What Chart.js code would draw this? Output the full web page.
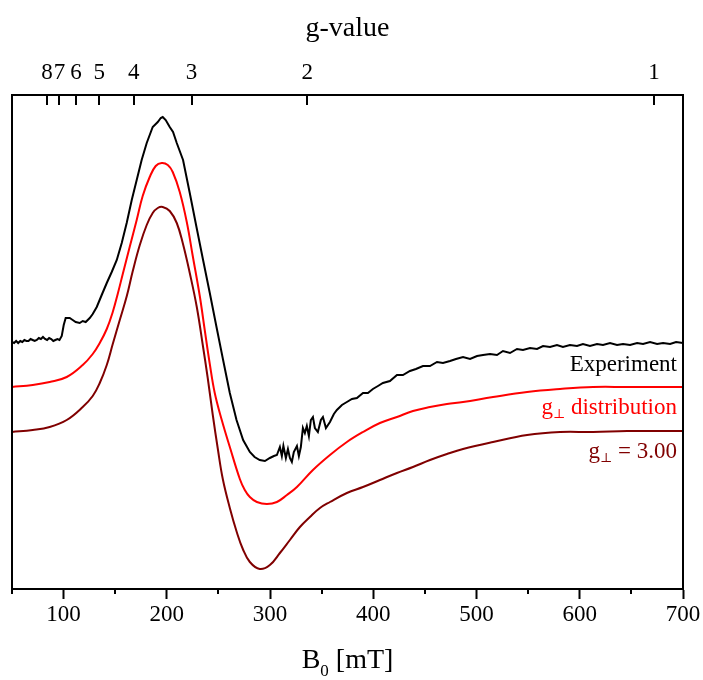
<!DOCTYPE html>
<html>
<head>
<meta charset="utf-8">
<script src="https://cdn.jsdelivr.net/npm/chart.js@4.4.1/dist/chart.umd.min.js"></script>
<style>
  html, body { margin: 0; padding: 0; background: #fff; }
</style>
</head>
<body>
<canvas id="epr" width="703" height="680"></canvas>
<script>
// field axis, mT
const fieldMin = 50;
const fieldMax = 700;
const fieldTicks = [50, 100, 150, 200, 250, 300, 350, 400, 450, 500, 550, 600, 650, 700];

// g-value axis: B = hv / (g * muB), with hv/muB ~ 672 mT
const hvOverMuB = 672;
const gTicks = [8, 7, 6, 5, 4, 3, 2, 1];

// measured spectrum (arb. units, offset)
const expField = [
  50, 52, 54, 56, 58, 60, 62, 64, 66, 68,
  70, 72, 74, 76, 78, 80, 82, 84, 86, 88,
  90, 92, 94, 96, 98.2, 100.1, 102, 105.9, 108.8, 111.7,
  115.6, 118.5, 121.4, 125.3, 128.2, 132.1, 136.9, 141.8, 146.6, 151.5,
  156.3, 161.1, 166, 170.8, 175.6, 180.5, 186.3, 191.2, 194.1, 196,
  198.9, 202.8, 206, 209.6, 215.7, 222.2, 228.7, 235.1, 241.6, 248.1,
  254.5, 261, 267.5, 273.9, 280.4, 285, 290, 295, 299.8, 303.7,
  306.6, 309.5, 311.4, 312.9, 315.3, 317.3, 319.2, 321.1, 323, 326,
  327.9, 329.8, 331.8, 333.7, 335.6, 337.6, 339.5, 341.5, 343.4, 346.3,
  349.2, 351.2, 354.1, 358, 361.8, 364.7, 369.6, 374.4, 379.3, 384.1,
  390, 394.8, 399.6, 404.5, 409.3, 416.1, 422.9, 428.7, 435.5, 441.3,
  448.1, 454.9, 461.7, 467.5, 474.3, 480.1, 486.9, 493.7, 500.5, 506.3,
  513.1, 519.8, 525.6, 532.4, 539.2, 545, 551.8, 558.6, 564.4, 571.2,
  577.9, 583.7, 590.5, 597.3, 603.1, 609.9, 616.7, 622.5, 629.3, 636.1,
  641.9, 648.7, 655.5, 661.3, 668.1, 674.9, 680.7, 687.5, 693.3, 700
];
const expSignal = [
  247, 246, 248, 246, 248, 247, 249, 248, 248, 250,
  249, 248, 249, 251, 250, 252, 250, 249, 251, 250,
  248, 249, 250, 249, 253, 264, 271, 271, 269, 267,
  266, 268, 267, 271, 275, 282, 294, 306, 317, 329,
  346, 366, 389, 409, 429, 446, 462, 467, 471, 472,
  469, 462, 457, 446, 429, 396, 362, 329, 296, 262,
  229, 196, 169, 149, 137, 132, 129, 128, 131, 133,
  134, 142, 133, 143, 131, 140, 131, 127, 137, 143,
  133, 142, 161, 156, 163, 153, 169, 172, 161, 157,
  169, 172, 161, 167, 175, 179, 184, 187, 190, 191,
  196, 196, 200, 203, 206, 208, 214, 214, 218, 220,
  223, 223, 227, 226, 228, 230, 232, 230, 233, 234,
  235, 234, 238, 236, 240, 239, 241, 240, 243, 242,
  244, 242, 244, 243, 245, 243, 245, 244, 246, 244,
  245, 244, 246, 245, 247, 245, 246, 245, 247, 246
];

// simulation with a distribution of g_perp
const distField = [
  50, 70.1, 86.5, 103, 118.5, 128.2, 135, 141.8, 147.6, 152.4,
  157.3, 164, 170.8, 176.6, 183.4, 189.2, 195, 200.9, 205.7, 212.5,
  219.3, 225.1, 231.9, 236.7, 241.6, 246.4, 253.2, 261, 270.7, 275.5,
  280.4, 287.2, 296.9, 306.6, 316.3, 326, 341.5, 358, 374.4, 390,
  406.4, 422.9, 438.4, 454.9, 471.3, 486.9, 516, 549, 580.9, 612.9,
  645.9, 700
];
const distSignal = [
  202, 204, 207, 212, 224, 235, 246, 260, 277, 295,
  315, 342, 369, 393, 412, 423, 426, 424, 417, 397,
  367, 333, 293, 259, 225, 196, 169, 142, 110, 99,
  92, 87, 85, 87, 94, 102, 119, 134, 147, 157,
  166, 172, 178, 182, 185, 187, 192, 197, 200, 202,
  202, 202
];

// simulation with g_perp = 3.00
const g300Field = [
  50, 70.1, 86.5, 103, 118.5, 128.2, 135, 141.8, 147.6, 154.4,
  161.2, 167, 173.8, 180.5, 186.3, 191.2, 196, 202.8, 209.6, 215.4,
  222.2, 229, 234.8, 239.6, 244.5, 249.4, 254.2, 261, 267.7, 273.6,
  280.4, 290, 299.8, 309.5, 319.2, 328.9, 338.6, 348.3, 358, 374.4,
  390, 406.4, 422.9, 438.4, 454.9, 471.3, 486.9, 516, 549, 580.9,
  612.9, 645.9, 700
];
const g300Signal = [
  157, 159, 162, 169, 182, 193, 206, 224, 245, 269,
  293, 318, 344, 364, 376, 381, 382, 378, 366, 346,
  316, 282, 244, 211, 174, 140, 110, 81, 57, 40,
  27, 20, 24, 36, 49, 62, 72, 81, 87, 96,
  102, 109, 116, 122, 129, 135, 140, 147, 154, 157,
  157, 158, 158
];

const serif = '"Liberation Serif", "DejaVu Serif", serif';
const colors = ['#000000', '#ff0000', '#800000'];

function toPoints(xs, ys) {
  return xs.map((x, i) => ({ x: x, y: ys[i] }));
}

function richWidth(ctx, pieces, size, subSize) {
  let width = 0;
  pieces.forEach(p => {
    ctx.font = (p.sub ? subSize : size) + 'px ' + serif;
    width += ctx.measureText(p.t).width;
  });
  return width;
}

// draws text pieces right-aligned; pieces marked sub are smaller and lower
function drawRich(ctx, pieces, right, baseline, size, subSize) {
  let x = right - richWidth(ctx, pieces, size, subSize);
  pieces.forEach(p => {
    ctx.font = (p.sub ? subSize : size) + 'px ' + serif;
    ctx.fillText(p.t, x, baseline + (p.sub ? p.dy : 0));
    x += ctx.measureText(p.t).width;
  });
}

const decorations = {
  id: 'decorations',
  afterDraw(chart) {
    const { ctx, chartArea: a, scales } = chart;
    ctx.save();
    ctx.strokeStyle = '#000';
    ctx.lineWidth = 2;
    ctx.strokeRect(a.left, a.top, a.right - a.left, a.bottom - a.top);

    ctx.beginPath();
    // g-value ticks point into the plot
    scales.gAxis.ticks.forEach(t => {
      const x = Math.round(scales.gAxis.getPixelForValue(t.value));
      ctx.moveTo(x, a.top);
      ctx.lineTo(x, a.top + 10);
    });
    // short minor ticks on the field axis
    scales.x.ticks.forEach(t => {
      if (t.value % 100 !== 0) {
        const x = Math.round(scales.x.getPixelForValue(t.value));
        ctx.moveTo(x, a.bottom);
        ctx.lineTo(x, a.bottom + 5);
      }
    });
    ctx.stroke();

    ctx.textAlign = 'left';
    ctx.textBaseline = 'alphabetic';

    // trace labels
    const right = a.right - 6;
    ctx.fillStyle = colors[0];
    drawRich(ctx, [{ t: 'Experiment' }], right, 371, 23, 13);
    ctx.fillStyle = colors[1];
    drawRich(ctx, [{ t: 'g' }, { t: '\u22A5', sub: true, dy: 4 }, { t: ' distribution' }], right, 414, 23, 13);
    ctx.fillStyle = colors[2];
    drawRich(ctx, [{ t: 'g' }, { t: '\u22A5', sub: true, dy: 4 }, { t: ' = 3.00' }], right, 458, 23, 13);

    // field axis title with subscript
    ctx.fillStyle = '#000';
    const title = [{ t: 'B' }, { t: '0', sub: true, dy: 8 }, { t: ' [mT]' }];
    const w = richWidth(ctx, title, 28, 17);
    drawRich(ctx, title, (a.left + a.right) / 2 + w / 2, 668, 28, 17);
    ctx.restore();
  }
};

new Chart(document.getElementById('epr'), {
  type: 'line',
  data: {
    datasets: [
      {
        label: 'Experiment',
        data: toPoints(expField, expSignal),
        borderColor: colors[0],
        borderWidth: 2,
        pointRadius: 0,
        tension: 0
      },
      {
        label: 'g\u22A5 distribution',
        data: toPoints(distField, distSignal),
        borderColor: colors[1],
        borderWidth: 2,
        pointRadius: 0,
        tension: 0.4
      },
      {
        label: 'g\u22A5 = 3.00',
        data: toPoints(g300Field, g300Signal),
        borderColor: colors[2],
        borderWidth: 2,
        pointRadius: 0,
        tension: 0.4
      }
    ]
  },
  options: {
    responsive: false,
    animation: false,
    devicePixelRatio: 1,
    layout: { padding: { left: 12, right: 20, top: 0, bottom: 0 } },
    plugins: { legend: { display: false }, tooltip: { enabled: false } },
    scales: {
      x: {
        type: 'linear',
        position: 'bottom',
        min: fieldMin,
        max: fieldMax,
        afterBuildTicks: s => { s.ticks = fieldTicks.map(v => ({ value: v })); },
        afterFit: s => { s.height = 91; },
        grid: {
          drawOnChartArea: false,
          tickLength: 10,
          tickWidth: 2,
          tickColor: c => (c.tick && c.tick.value % 100 !== 0) ? 'rgba(0,0,0,0)' : '#000'
        },
        border: { display: true, color: '#000', width: 2 },
        ticks: {
          autoSkip: false,
          maxRotation: 0,
          padding: 2,
          color: '#000',
          font: { family: serif, size: 23 },
          callback: v => (v % 100 === 0 ? String(v) : '')
        }
      },
      gAxis: {
        type: 'linear',
        position: 'top',
        min: fieldMin,
        max: fieldMax,
        afterBuildTicks: s => { s.ticks = gTicks.map(g => ({ value: hvOverMuB / g })); },
        afterFit: s => { s.height = 95; },
        grid: { display: false, drawTicks: false },
        border: { display: false },
        ticks: {
          autoSkip: false,
          maxRotation: 0,
          padding: 8,
          color: '#000',
          font: { family: serif, size: 23 },
          callback: (v, i) => String(gTicks[i])
        },
        title: {
          display: true,
          text: 'g-value',
          color: '#000',
          font: { family: serif, size: 28 },
          padding: { top: 12, bottom: 0 }
        }
      },
      y: { display: false, min: 0, max: 494 }
    }
  },
  plugins: [decorations]
});
</script>
</body>
</html>
